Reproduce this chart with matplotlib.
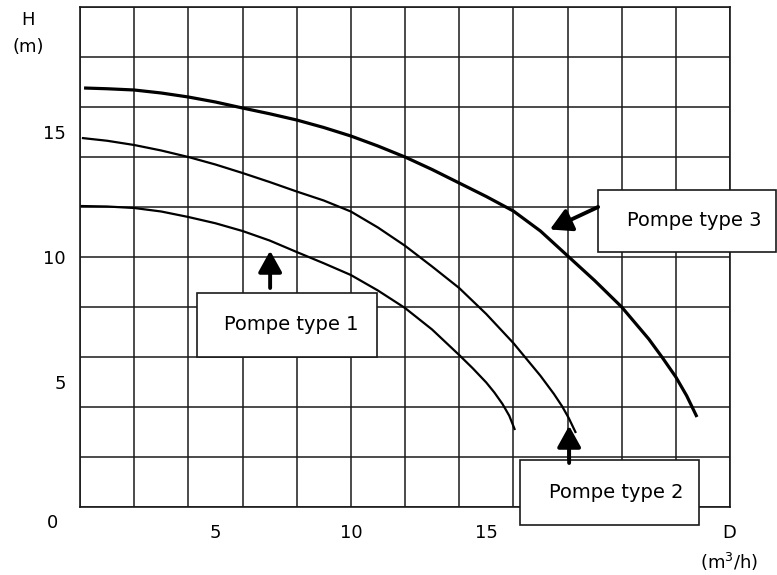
import numpy as np
import matplotlib
matplotlib.use('Agg')
import matplotlib.pyplot as plt
from matplotlib.patches import Rectangle, FancyArrowPatch

# --- data (D in m3/h, H in m) ---
d_pompe1 = [0, 1, 2, 3, 4, 5, 6, 7, 8, 9, 10, 11, 12, 13, 14, 14.5, 15, 15.3, 15.6, 15.85, 16.06]
h_pompe1 = [12.04, 12.02, 11.96, 11.82, 11.6, 11.35, 11.04, 10.66, 10.2, 9.75, 9.28, 8.66,
            7.96, 7.1, 6.08, 5.55, 4.98, 4.58, 4.12, 3.65, 3.08]

d_pompe2 = [0.07, 1, 2, 3, 4, 5, 6, 7, 8, 9, 10, 11, 12, 13, 14, 15, 16, 17, 17.5, 17.8,
            18.05, 18.31]
h_pompe2 = [14.76, 14.65, 14.48, 14.26, 14.0, 13.7, 13.36, 13.0, 12.62, 12.26, 11.82, 11.18,
            10.45, 9.62, 8.76, 7.72, 6.56, 5.25, 4.52, 4.03, 3.55, 2.96]

d_pompe3 = [0.15, 1, 2, 3, 4, 5, 6, 7, 8, 9, 10, 11, 12, 13, 14, 15, 16, 17, 18, 19, 20, 21,
            21.5, 22, 22.4, 22.78]
h_pompe3 = [16.76, 16.73, 16.68, 16.56, 16.4, 16.2, 15.96, 15.73, 15.48, 15.18, 14.84, 14.44,
            14.0, 13.5, 12.96, 12.42, 11.84, 11.04, 10.05, 9.06, 8.0, 6.72, 5.98, 5.2,
            4.45, 3.6]

x_ticks = [5, 10, 15]
y_ticks = [5, 10, 15]
labels = ['Pompe type 1', 'Pompe type 2', 'Pompe type 3']

plt.rcParams['font.family'] = ['DejaVu Sans']

fig = plt.figure(figsize=(7.77, 5.75), dpi=100)
ax = fig.add_axes([80 / 777, 1 - 507 / 575, 650 / 777, 500 / 575])

ax.set_xlim(0, 24)
ax.set_ylim(0, 20)

# grid every 2 units (minor), labels at 5/10/15 (major)
ax.xaxis.remove_overlapping_locs = False
ax.yaxis.remove_overlapping_locs = False
ax.set_xticks(np.arange(0, 25, 2), minor=True)
ax.set_yticks(np.arange(0, 21, 2), minor=True)
ax.set_xticks(x_ticks)
ax.set_yticks(y_ticks)
ax.grid(which='minor', color='#1a1a1a', lw=1.1)
ax.tick_params(which='both', length=0)
ax.tick_params(axis='x', pad=12, labelsize=13)
ax.tick_params(axis='y', pad=10, labelsize=13)
for s in ax.spines.values():
    s.set_linewidth(1.2)
    s.set_color('#1a1a1a')

# origin label
ax.annotate('0', xy=(0, 0), xytext=(-27, -16), textcoords='offset pixels',
            ha='center', va='center', fontsize=13)

# curves
ax.plot(d_pompe1, h_pompe1, color='black', lw=1.6, solid_capstyle='butt')
ax.plot(d_pompe2, h_pompe2, color='black', lw=1.6, solid_capstyle='butt')
ax.plot(d_pompe3, h_pompe3, color='black', lw=2.3, solid_capstyle='butt')

# axis labels
fig.text(28 / 777, 1 - 20 / 575, 'H', ha='center', va='center', fontsize=13)
fig.text(28 / 777, 1 - 47 / 575, '(m)', ha='center', va='center', fontsize=13)
fig.text(729 / 777, 1 - 533 / 575, 'D', ha='center', va='center', fontsize=13)
fig.text(729 / 777, 1 - 562 / 575, '(m$^3$/h)', ha='center', va='center', fontsize=13)

# label boxes: (x0, y0, x1, y1), text centre, arrow tail, arrow tip
boxes = [
    ((4.32, 6.0, 10.97, 8.56), (7.79, 7.28), (7.02, 8.76), (7.02, 10.25)),
    ((16.25, -0.72, 22.86, 1.88), (19.79, 0.56), (18.06, 1.76), (18.06, 3.25)),
    ((19.13, 10.2, 25.70, 12.68), (22.67, 11.48), (19.13, 12.0), (17.35, 11.1)),
]
for label, (rect, tc, tail, tip) in zip(labels, boxes):
    x0, y0, x1, y1 = rect
    ax.add_patch(Rectangle((x0, y0), x1 - x0, y1 - y0, facecolor='white',
                           edgecolor='#1a1a1a', lw=1.2, clip_on=False, zorder=4))
    ax.text(tc[0], tc[1], label, ha='center', va='center', fontsize=14, zorder=5)
    arr = FancyArrowPatch(tail, tip, arrowstyle='-|>,head_length=0.65,head_width=0.36',
                          mutation_scale=20, lw=2.8, color='black',
                          shrinkA=0, shrinkB=0, clip_on=False, zorder=5)
    ax.add_patch(arr)

fig.savefig('out.png', dpi=100)
